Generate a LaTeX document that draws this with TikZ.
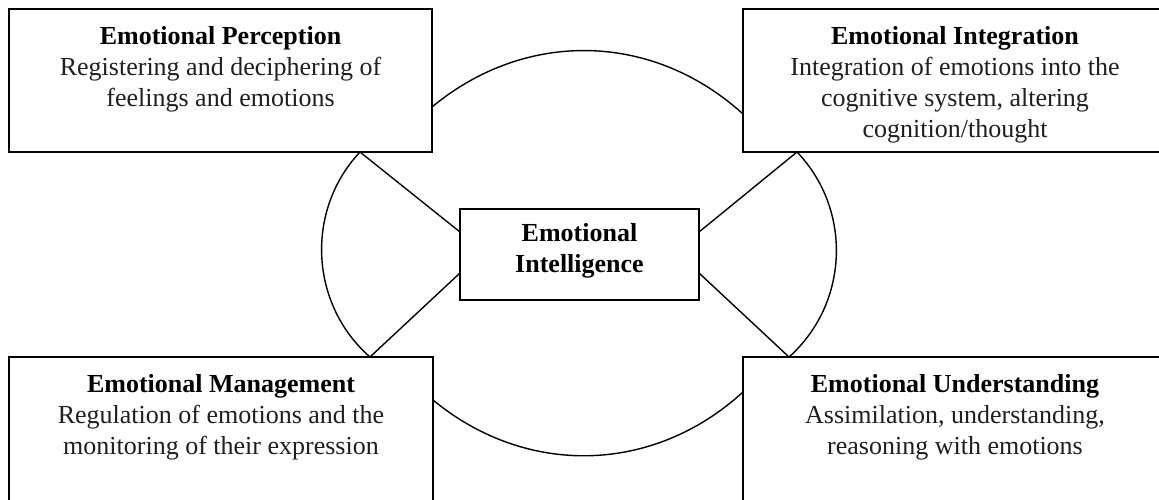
\documentclass[tikz,border=0pt]{standalone}
\usepackage{fontspec}
\setmainfont{Liberation Serif}
\usetikzlibrary{calc}
\tikzset{
  boxnode/.style={draw=black, line width=1.8pt, fill=white, inner sep=0pt, outer sep=0pt},
  txtnode/.style={anchor=north, align=center, inner sep=0pt, text=black!88,
    font=\fontsize{26}{31}\selectfont},
  link/.style={draw=black, line width=1.4pt},
}
\begin{document}
\begin{tikzpicture}[x=1pt,y=-1pt]
\useasboundingbox (0,0) rectangle (1159,499);
\clip (0,0) rectangle (1159,499);
\fill[white] (0,0) rectangle (1159,499);
% boxes (right and bottom ones run past the picture's edge)
\node[boxnode, minimum width=423pt, minimum height=143pt] (tl) at (220.5,80.5) {};
\node[boxnode, minimum width=437pt, minimum height=143pt] (tr) at (961.5,80.5) {};
\node[boxnode, minimum width=424pt, minimum height=158pt] (bl) at (221,436) {};
\node[boxnode, minimum width=437pt, minimum height=158pt] (br) at (961.5,436) {};
\node[boxnode, minimum width=239pt, minimum height=91pt] (ei) at (579.5,254.5) {};
% texts
\node[align=center, inner sep=0pt, font=\fontsize{26}{31}\selectfont\bfseries] (eit)
  at ($(ei.center)+(0,-4)$) {Emotional\\Intelligence};
\node[txtnode] (tlt) at ($(tl.north west)+(211.5,17)$)
  {\textbf{\color{black}Emotional Perception}\\Registering and deciphering of\\feelings and emotions};
\node[txtnode] (trt) at ($(tr.north west)+(212,17)$)
  {\textbf{\color{black}Emotional Integration}\\Integration of emotions into the\\cognitive system, altering\\cognition/thought};
\node[txtnode] (blt) at ($(bl.north west)+(212,17)$)
  {\textbf{\color{black}Emotional Management}\\Regulation of emotions and the\\monitoring of their expression};
\node[txtnode] (brt) at ($(br.north west)+(212,17)$)
  {\textbf{\color{black}Emotional Understanding}\\Assimilation, understanding,\\reasoning with emotions};
% straight connectors
\draw[link] ($(tl.south west)+(351,0)$) -- ($(ei.north west)+(0,23)$);
\draw[link] ($(tr.south west)+(54,0)$) -- ($(ei.north east)+(0,23)$);
\draw[link] ($(bl.north west)+(361,0)$) -- ($(ei.south west)+(0,-27)$);
\draw[link] ($(br.north west)+(46,0)$) -- ($(ei.south east)+(0,-27)$);
% arcs
\draw[link] ($(tl.north east)+(0,98)$) to[bend left=41] ($(tr.north west)+(0,105)$);
\draw[link] ($(bl.north east)+(0,43)$) to[bend right=41] ($(br.north west)+(0,35)$);
\draw[link] ($(tl.south west)+(351,0)$) to[bend right=46] ($(bl.north west)+(361,0)$);
\draw[link] ($(tr.south west)+(54,0)$) to[bend left=46] ($(br.north west)+(46,0)$);
\end{tikzpicture}
\end{document}
